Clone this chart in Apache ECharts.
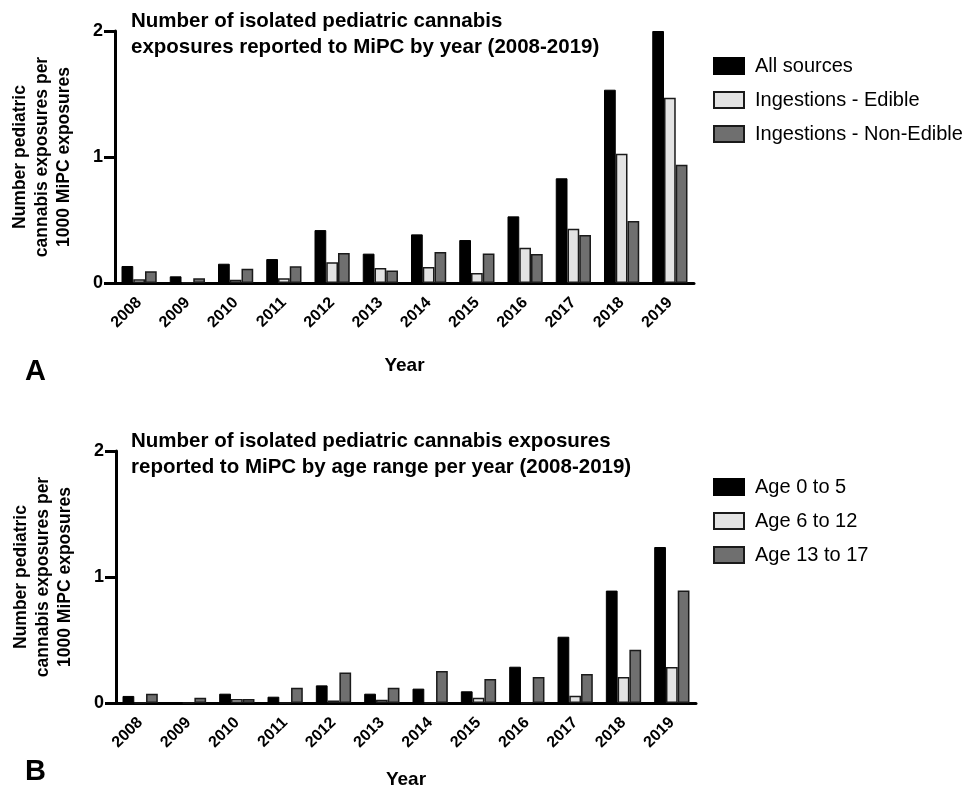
<!DOCTYPE html>
<html>
<head>
<meta charset="utf-8">
<script src="https://cdn.jsdelivr.net/npm/echarts@6/dist/echarts.min.js"></script>
<style>
  html, body { margin: 0; padding: 0; background: #fff; }
  #chart { width: 970px; height: 792px; }
</style>
</head>
<body>
<div id="chart"></div>
<script>
// Years shown on both panels
const years = ['2008', '2009', '2010', '2011', '2012', '2013', '2014', '2015', '2016', '2017', '2018', '2019'];
const yTicks = [0, 1, 2];

// Panel A: exposures per 1000 MiPC exposures, by source
const allSources    = [0.135, 0.053, 0.153, 0.19, 0.42, 0.233, 0.386, 0.341, 0.529, 0.831, 1.534, 2.0];
const edible        = [0.03, 0.005, 0.026, 0.037, 0.164, 0.119, 0.127, 0.079, 0.28, 0.431, 1.026, 1.471];
const nonEdible     = [0.093, 0.037, 0.114, 0.132, 0.238, 0.10, 0.246, 0.235, 0.23, 0.381, 0.492, 0.939];

// Panel B: exposures per 1000 MiPC exposures, by age range
const age0to5   = [0.056, 0, 0.074, 0.05, 0.14, 0.074, 0.114, 0.093, 0.288, 0.526, 0.892, 1.238];
const age6to12  = [0, 0, 0.032, 0, 0.02, 0.026, 0, 0.042, 0, 0.058, 0.206, 0.286];
const age13to17 = [0.074, 0.042, 0.032, 0.122, 0.243, 0.122, 0.254, 0.19, 0.206, 0.23, 0.423, 0.892];

const namesA = ['All sources', 'Ingestions - Edible', 'Ingestions - Non-Edible'];
const namesB = ['Age 0 to 5', 'Age 6 to 12', 'Age 13 to 17'];

const FONT = '"Liberation Sans", Arial, Helvetica, sans-serif';
const fills = [
  { color: '#000000', borderColor: '#000000', borderWidth: 1 },
  { color: '#e3e3e3', borderColor: '#1a1a1a', borderWidth: 1.5 },
  { color: '#6f6f6f', borderColor: '#1a1a1a', borderWidth: 1.5 }
];

function xAxisFor(gridIndex, nameGap) {
  return {
    type: 'category', gridIndex, data: years, boundaryGap: true,
    name: 'Year', nameLocation: 'middle', nameGap,
    nameTextStyle: { fontFamily: FONT, fontWeight: 'bold', fontSize: 19, color: '#000' },
    axisLine: { lineStyle: { color: '#000', width: 3 } },
    axisTick: { alignWithLabel: true, length: 11, lineStyle: { color: '#000', width: 3 } },
    axisLabel: { rotate: 45, margin: 17, fontFamily: FONT, fontWeight: 'bold', fontSize: 16, color: '#000', interval: 0 },
    splitLine: { show: false }
  };
}
function yAxisFor(gridIndex) {
  return {
    type: 'value', gridIndex, min: yTicks[0], max: yTicks[yTicks.length - 1], interval: 1,
    name: 'Number pediatric\ncannabis exposures per\n1000 MiPC exposures',
    nameLocation: 'middle', nameGap: 40, nameRotate: 90,
    nameTextStyle: { fontFamily: FONT, fontWeight: 'bold', fontSize: 17.5, lineHeight: 22, color: '#000', align: 'center' },
    axisLine: { show: true, lineStyle: { color: '#000', width: 3 } },
    axisTick: { show: true, length: 11, lineStyle: { color: '#000', width: 3 } },
    axisLabel: { margin: 12, fontFamily: FONT, fontWeight: 'bold', fontSize: 18, color: '#000' },
    splitLine: { show: false }
  };
}
function barSeries(name, data, idx, axisIndex) {
  return {
    name, type: 'bar', data, xAxisIndex: axisIndex, yAxisIndex: axisIndex,
    barGap: '0%', barCategoryGap: '27%',
    itemStyle: fills[idx], emphasis: { disabled: true }, animation: false
  };
}
function legendFor(data, top) {
  return {
    data, orient: 'vertical', left: 713, top, padding: 0, icon: 'rect',
    itemWidth: 30, itemHeight: 16, itemGap: 14,
    textStyle: { fontFamily: FONT, fontSize: 20, lineHeight: 20, color: '#000', padding: [0, 0, 0, 6] },
    selectedMode: false
  };
}

const chart = echarts.init(document.getElementById('chart'), null, { renderer: 'canvas' });
chart.setOption({
  backgroundColor: '#ffffff',
  animation: false,
  title: [
    { text: 'Number of isolated pediatric cannabis\nexposures reported to MiPC by year (2008-2019)', left: 126, top: 3,
      textStyle: { fontFamily: FONT, fontWeight: 'bold', fontSize: 20.5, lineHeight: 26, color: '#000' } },
    { text: 'Number of isolated pediatric cannabis exposures\nreported to MiPC by age range per year (2008-2019)', left: 126, top: 423,
      textStyle: { fontFamily: FONT, fontWeight: 'bold', fontSize: 20.5, lineHeight: 26, color: '#000' } },
    { text: 'A', left: 20, top: 352, textStyle: { fontFamily: FONT, fontWeight: 'bold', fontSize: 29, color: '#000' } },
    { text: 'B', left: 20, top: 752, textStyle: { fontFamily: FONT, fontWeight: 'bold', fontSize: 29, color: '#000' } }
  ],
  legend: [legendFor(namesA, 56), legendFor(namesB, 477)],
  grid: [
    { left: 115, top: 31, width: 579, height: 252 },
    { left: 116, top: 451, width: 580, height: 252 }
  ],
  xAxis: [xAxisFor(0, 73), xAxisFor(1, 67)],
  yAxis: [yAxisFor(0), yAxisFor(1)],
  series: [
    barSeries(namesA[0], allSources, 0, 0),
    barSeries(namesA[1], edible, 1, 0),
    barSeries(namesA[2], nonEdible, 2, 0),
    barSeries(namesB[0], age0to5, 0, 1),
    barSeries(namesB[1], age6to12, 1, 1),
    barSeries(namesB[2], age13to17, 2, 1)
  ]
});
</script>
</body>
</html>
